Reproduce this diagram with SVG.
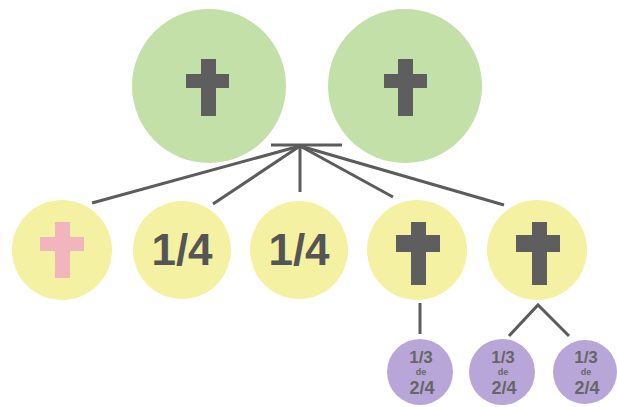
<svg xmlns="http://www.w3.org/2000/svg" width="617" height="407" viewBox="0 0 617 407">
<defs>
<style>
.green{fill:#c2e0a8}
.yellow{fill:#f4f1a2}
.purple{fill:#b9a6d8}
.cross{fill:#5e5e5e}
.pink{fill:#f2b5bd}
.conn{stroke:#5c5c5c;stroke-width:3;fill:none;stroke-linecap:butt}
.big{font-family:"Liberation Sans",Arial,sans-serif;font-weight:bold;font-size:44px;fill:#555555;text-anchor:middle}
.small{font-family:"Liberation Sans",Arial,sans-serif;font-weight:bold;fill:#666666;text-anchor:middle}
.f1{font-size:17px}
.f2{font-size:18px}
.de{font-size:9px}
</style>
</defs>
<rect width="617" height="407" fill="#ffffff"/>
<g id="connectors">
<line class="conn" x1="271" y1="145" x2="342" y2="145"/>
<line class="conn" x1="300" y1="146" x2="92" y2="203"/>
<line class="conn" x1="300" y1="146" x2="213" y2="204"/>
<line class="conn" x1="300" y1="146" x2="300" y2="192"/>
<line class="conn" x1="300" y1="146" x2="393" y2="197"/>
<line class="conn" x1="300" y1="146" x2="504" y2="205"/>
<line class="conn" x1="420" y1="303" x2="420" y2="334"/>
<polyline class="conn" points="509,336 538,305 569,336"/>
</g>
<g id="parent1">
<circle class="green" cx="209" cy="86" r="77"/>
<rect class="cross" x="201" y="59" width="15" height="57"/>
<rect class="cross" x="186" y="74" width="43" height="14"/>
</g>
<g id="parent2">
<circle class="green" cx="405" cy="86" r="77"/>
<rect class="cross" x="398" y="59" width="15" height="57"/>
<rect class="cross" x="384" y="74" width="43" height="14"/>
</g>
<g id="child1">
<circle class="yellow" cx="62" cy="250" r="50"/>
<rect class="pink" x="55" y="222" width="15" height="56"/>
<rect class="pink" x="40" y="237" width="44" height="14"/>
</g>
<g id="child2">
<circle class="yellow" cx="182" cy="250" r="49"/>
<text class="big" x="182" y="265">1/4</text>
</g>
<g id="child3">
<circle class="yellow" cx="299" cy="250" r="49"/>
<text class="big" x="299" y="265">1/4</text>
</g>
<g id="child4">
<circle class="yellow" cx="417" cy="250" r="50"/>
<rect class="cross" x="411" y="222" width="15" height="63"/>
<rect class="cross" x="396" y="235" width="44" height="17"/>
</g>
<g id="child5">
<circle class="yellow" cx="537" cy="250" r="50"/>
<rect class="cross" x="532" y="222" width="15" height="63"/>
<rect class="cross" x="516" y="235" width="44" height="17"/>
</g>
<g id="grand1">
<circle class="purple" cx="420" cy="372" r="33"/>
<text class="small f1" x="421" y="363">1/3</text>
<text class="small de" x="421" y="375">de</text>
<text class="small f2" x="422" y="394">2/4</text>
</g>
<g id="grand2">
<circle class="purple" cx="502" cy="372" r="33"/>
<text class="small f1" x="503" y="363">1/3</text>
<text class="small de" x="503" y="375">de</text>
<text class="small f2" x="504" y="394">2/4</text>
</g>
<g id="grand3">
<circle class="purple" cx="585" cy="372" r="32"/>
<text class="small f1" x="586" y="363">1/3</text>
<text class="small de" x="586" y="375">de</text>
<text class="small f2" x="587" y="394">2/4</text>
</g>
</svg>
